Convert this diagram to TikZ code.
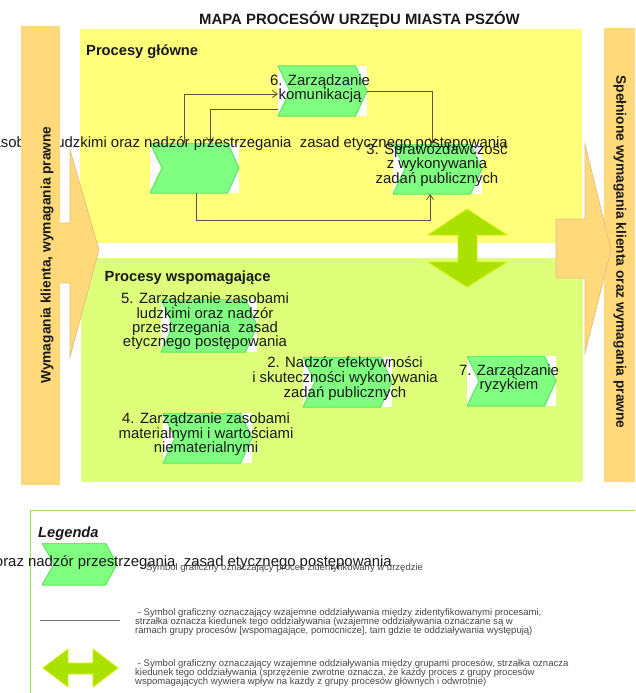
\documentclass[tikz,border=0pt]{standalone}
\usepackage{fontspec}
\setmainfont{Liberation Sans}
\usetikzlibrary{arrows.meta}
\definecolor{mainyellow}{RGB}{255,255,122}
\definecolor{supportlime}{RGB}{222,255,122}
\definecolor{barorange}{RGB}{255,217,122}
\definecolor{baredge}{RGB}{226,190,130}
\definecolor{chevgreen}{RGB}{128,255,128}
\definecolor{chevedge}{RGB}{90,230,90}
\definecolor{arrowlime}{RGB}{170,225,0}
\definecolor{arrowedge}{RGB}{215,240,0}
\definecolor{legline}{RGB}{160,225,100}
\definecolor{conn}{RGB}{85,85,75}
\definecolor{legtext}{RGB}{70,70,70}
\tikzset{
  x=1pt,y=-1pt,
  chevronshape/.style={inner sep=0pt,outer sep=0pt,path picture={
    \fill[chevgreen,draw=chevedge,line width=1pt]
      (path picture bounding box.north west)
      -- ([xshift=-11.5pt]path picture bounding box.north east)
      -- (path picture bounding box.east)
      -- ([xshift=-11.5pt]path picture bounding box.south east)
      -- (path picture bounding box.south west)
      -- ([xshift=12pt]path picture bounding box.west) -- cycle;}},
  chevronbox/.style={chevronshape,fill=white,minimum width=89pt,minimum height=50pt},
  proclabel/.style={align=center,inner sep=0pt,font=\fontsize{14.9}{14}\selectfont,text=black!90},
  longlabel/.style={anchor=east,inner sep=0pt,font=\fontsize{14.9}{14}\selectfont,text=black!90},
  headline/.style={anchor=west,inner sep=0pt,font=\fontsize{14.7}{15}\selectfont\bfseries,text=black!90},
  barlabel/.style={inner sep=0pt,font=\fontsize{13.75}{15}\selectfont\bfseries,text=black!90},
  legendnote/.style={anchor=west,align=left,inner sep=0pt,font=\fontsize{9.53}{9.4}\selectfont,text=legtext},
  bararrow/.style={fill=barorange,draw=baredge,line width=.7pt},
  dblarrow/.style={fill=arrowlime,draw=arrowedge,line width=.8pt},
  link/.style={draw=conn,line width=.8pt},
  linkarrow/.style={link,-{Straight Barb[length=5pt,width=7pt]}}
}
\begin{document}
\begin{tikzpicture}
\useasboundingbox (0,0) rectangle (635,693);
\clip (0,0) rectangle (635,693);
% group panels
\fill[mainyellow] (80,29) rectangle (582,243);
\fill[supportlime] (81,258) rectangle (583,482);
% process chevrons
\node[chevronbox] (procA) at (194.5,168) {};
\node[chevronbox] (procF) at (322.5,91) {};
\node[chevronbox] (procC) at (437.5,169) {};
\node[chevronbox,minimum width=96pt,minimum height=53pt] (procE) at (209,325.5) {};
\node[chevronbox] (procB) at (347.5,382) {};
\node[chevronbox] (procD) at (207.5,438) {};
\node[chevronbox] (procG) at (511.5,381) {};
% connectors
\draw[linkarrow] ([xshift=-10.5pt]procA.north) |- ([yshift=-3pt]procF.west);
\draw[linkarrow] ([yshift=-18pt]procF.west) -| ([xshift=15.5pt]procA.north);
\draw[linkarrow] (procF.east) -| ([xshift=-5pt]procC.north);
\draw[linkarrow] ([xshift=1.5pt]procA.south) |- ++(234,27) -| ([xshift=-7.5pt]procC.south);
% texts
\node[inner sep=0pt,font=\fontsize{14.9}{15}\selectfont\bfseries,text=black!90] (title) at (359.5,19) {MAPA PROCESÓW URZĘDU MIASTA PSZÓW};
\node[headline] (mainhead) at (86,51.5) {Procesy główne};
\node[headline] (supphead) at (104.5,277.5) {Procesy wspomagające};
\node[longlabel] (overA) at (508,143.5) {5. Zarządzanie zasobami ludzkimi oraz nadzór przestrzegania\ \ zasad etycznego postępowania};
\node[proclabel] (labF) at (320,88.5) {6. Zarządzanie\\komunikacją};
\node[proclabel] (labC) at (437,165.5) {3. Sprawozdawczość\\z wykonywania\\zadań publicznych};
\node[proclabel] (labE) at (205,321.5) {5. Zarządzanie zasobami\\ludzkimi oraz nadzór\\przestrzegania\ \ zasad\\etycznego postępowania};
\node[proclabel] (labB) at (345,378.5) {2. Nadzór efektywności\\i skuteczności wykonywania\\zadań publicznych};
\node[proclabel] (labD) at (206,434.5) {4. Zarządzanie zasobami\\materialnymi i wartościami\\niematerialnymi};
\node[proclabel] (labG) at (509,378.5) {7. Zarządzanie\\ryzykiem};
% side bars and arrows
\fill[barorange] (21,26) rectangle (60,485);
\path[bararrow] (60,223) -- (70,223) -- (70,150) -- (99,250) -- (70,357) -- (70,283) -- (60,283);
\fill[barorange] (604,28) rectangle (635,482);
\path[bararrow] (556,278) -- (556,219) -- (585,219) -- (585,144) -- (611,250) -- (585,353) -- (585,278) -- cycle;
\node[barlabel,rotate=90] (leftbar) at (47,255) {Wymagania klienta, wymagania prawne};
\node[barlabel,rotate=-90] (rightbar) at (620,252) {Spełnione wymagania klienta oraz wymagania prawne};
% group interaction arrow
\path[dblarrow] (467,209) -- (507,235) -- (477,235) -- (477,262) -- (507,262) -- (467,287) -- (428,262) -- (458,262) -- (458,235) -- (428,235) -- cycle;
% legend
\draw[legline,line width=1pt] (635,510.5) -- (30.5,510.5) -- (30.5,693);
\node[inner sep=0pt,anchor=west,font=\fontsize{14.7}{15}\selectfont\bfseries\itshape,text=black!90] (legtitle) at (38,533.5) {Legenda};
\node[chevronshape,minimum width=75pt,minimum height=42pt] (legchev) at (79.5,564) {};
\node[longlabel] (overleg) at (392,562.5) {5. Zarządzanie zasobami ludzkimi oraz nadzór przestrzegania\ \ zasad etycznego postępowania};
\coordinate (legL) at (40,620);
\coordinate (legR) at (120,620);
\draw[draw=black!55,line width=.8pt] (legL) -- (legR);
\path[dblarrow] (43,668) -- (68,649) -- (68,663) -- (93,663) -- (93,649) -- (118,668) -- (93,687) -- (93,674) -- (68,674) -- (68,687) -- cycle;
\node[legendnote] (note1) at (140,568) {- Symbol graficzny oznaczający proces zidentyfikowany w urzędzie};
\node[legendnote] (note2) at (135,622) {\ - Symbol graficzny oznaczający wzajemne oddziaływania między zidentyfikowanymi procesami,\\strzałka oznacza kiedunek tego oddziaływania (wzajemne oddziaływania oznaczane są w\\ramach grupy procesów [wspomagające, pomocnicze], tam gdzie te oddziaływania występują)};
\node[legendnote] (note3) at (135,673) {\ - Symbol graficzny oznaczający wzajemne oddziaływania między grupami procesów, strzałka oznacza\\kiedunek tego oddziaływania (sprzężenie zwrotne oznacza, że każdy proces z grupy procesów\\wspomagających wywiera wpływ na każdy z grupy procesów głównych i odwrotnie)};
\end{tikzpicture}
\end{document}
